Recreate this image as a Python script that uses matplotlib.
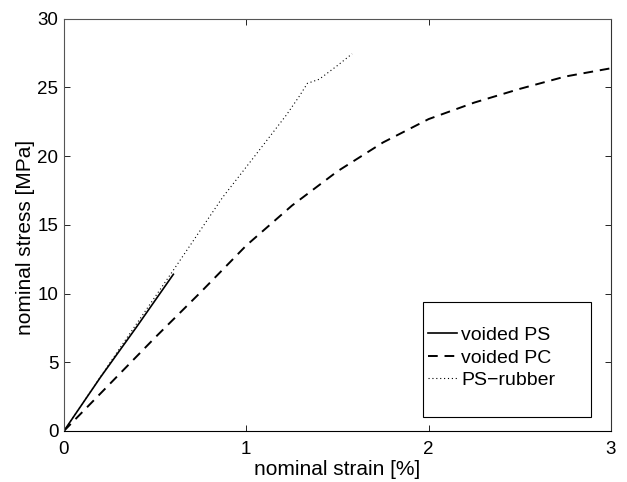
import matplotlib
matplotlib.use("Agg")
import matplotlib.pyplot as plt
from matplotlib.patches import Rectangle

plt.rcParams["font.family"] = ["Liberation Sans", "DejaVu Sans"]

# voided PS (solid)
ps_strain = [0.0, 0.2, 0.4, 0.6]
ps_stress = [0.0, 3.9, 7.6, 11.4]

# voided PC (dashed)
pc_strain = [0.0, 0.25, 0.5, 0.75, 1.0, 1.25, 1.5, 1.75, 2.0, 2.25, 2.5, 2.75, 3.0]
pc_stress = [0.0, 3.4, 6.8, 10.1, 13.5, 16.4, 18.9, 21.0, 22.7, 23.9, 24.9, 25.8, 26.4]

# PS-rubber (dotted)
rub_strain = [0.0, 0.3, 0.6, 0.87, 1.04, 1.22, 1.29, 1.335, 1.40, 1.50, 1.58]
rub_stress = [0.0, 5.9, 11.7, 17.0, 19.9, 23.0, 24.35, 25.3, 25.6, 26.6, 27.45]

fig = plt.figure(figsize=(6.27, 4.82), dpi=100)
ax = fig.add_axes([0.102, 0.106, 0.8725, 0.855])

ax.plot(ps_strain, ps_stress, color="black", lw=1.2, ls="-", label="voided PS")
ax.plot(pc_strain, pc_stress, color="black", lw=1.4, ls=(0, (5, 3.5)), label="voided PC")
ax.plot(rub_strain, rub_stress, color="black", lw=0.8, ls=(0, (1, 2.5)), label="PS\u2212rubber")

ax.set_xlim(0, 3)
ax.set_ylim(0, 30)
ax.set_xticks([0, 1, 2, 3])
ax.set_yticks([0, 5, 10, 15, 20, 25, 30])
ax.tick_params(direction="in", top=True, right=True, length=4, width=0.6,
               labelsize=13.5)
ax.tick_params(axis="x", pad=7)
ax.tick_params(axis="y", pad=4)
for s in ax.spines.values():
    s.set_linewidth(0.8)
ax.spines["top"].set_color("#555555")
ax.spines["left"].set_color("#555555")
ax.spines["right"].set_color("#333333")

ax.set_xlabel("nominal strain [%]", fontsize=15, labelpad=2)
ax.set_ylabel("nominal stress [MPa]", fontsize=15)
ax.yaxis.set_label_coords(-0.053, 0.47)

# MATLAB-style legend: contents on the left of a wide box
ax.add_patch(Rectangle((0.6563, 0.034), 0.3063, 0.279, transform=ax.transAxes,
                       fill=True, facecolor="white", edgecolor="black",
                       lw=0.8, zorder=4))
leg = ax.legend(loc="center left", fontsize=14, frameon=False,
                handlelength=1.5, handletextpad=0.2, borderpad=0,
                borderaxespad=0, labelspacing=0.25,
                bbox_to_anchor=(0.6654, 0.177))
leg.set_zorder(5)

fig.savefig("out.png", dpi=100)
